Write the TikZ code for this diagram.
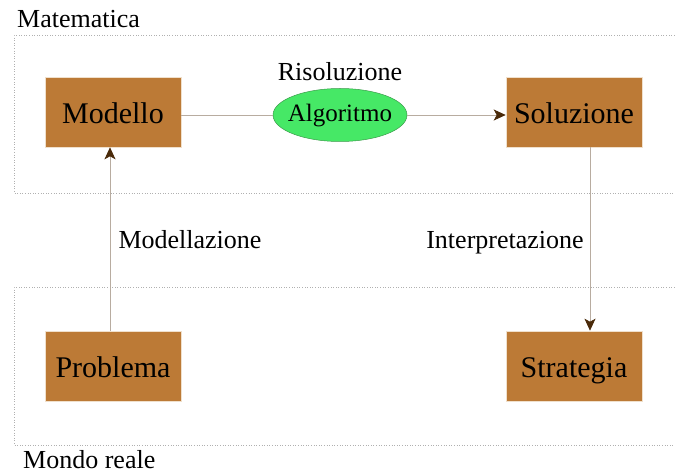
\documentclass[tikz,border=0pt]{standalone}
\usepackage{fontspec}
\setmainfont{Liberation Serif}
\usetikzlibrary{arrows.meta,shapes.geometric}
\definecolor{boxfill}{HTML}{BC7A36}
\definecolor{boxline}{HTML}{F0E0CC}
\definecolor{ellfill}{HTML}{46E866}
\definecolor{ellline}{HTML}{3A9A4A}
\definecolor{conn}{HTML}{B8ACA0}
\definecolor{tipc}{HTML}{4A2A0A}
\definecolor{frame}{HTML}{B0B0B0}
\tikzset{
  x=1pt,y=1pt,
  box/.style={draw=boxline, line width=0.6pt, fill=boxfill, minimum width=136pt, minimum height=70pt, inner sep=0pt, text height=23pt, text depth=0pt, font=\fontsize{30}{30}\selectfont},
  ell/.style={ellipse, draw=ellline, line width=0.5pt, fill=ellfill, minimum width=134pt, minimum height=53pt, inner xsep=-5pt, inner ysep=0pt, text height=14pt, text depth=0pt, font=\fontsize{25}{25}\selectfont},
  lbl/.style={inner sep=0pt, text height=18pt, text depth=0pt, font=\fontsize{26}{26}\selectfont},
  connline/.style={draw=conn, line width=0.8pt},
  arr/.style={connline, -{Stealth[length=12pt,width=11pt,inset=3pt,color=tipc]}},
  region/.style={draw=frame, line width=0.6pt, dotted}
}
\begin{document}
\begin{tikzpicture}
\useasboundingbox (0,0) rectangle (675,472);
\clip (0,0) rectangle (675,472);
% regions
\draw[region] (690,437) -- (14,437) -- (14,279) -- (690,279);
\draw[region] (690,185) -- (14,185) -- (14,27) -- (690,27);
\node[lbl, anchor=west] (mat) at (17,453) {Matematica};
\node[lbl, anchor=west] (mondo) at (23,13) {Mondo reale};
% nodes
\node[box] (modello) at (113,360) {Modello};
\node[box] (soluzione) at (574,360) {Soluzione};
\node[box] (problema) at (113,106) {Problema};
\node[box] (strategia) at (574,106) {Strategia};
\node[ell] (algo) at (340,357) {Algoritmo};
% labels
\node[lbl] (riso) at (340,400) {Risoluzione};
\node[lbl] (modl) at (190,232) {Modellazione};
\node[lbl] (interp) at (505,232) {Interpretazione};
% connectors
\draw[connline] (modello.east |- algo.west) -- (algo.west);
\draw[arr] (algo.east) -- (soluzione.west |- algo.east);
\draw[arr] ([xshift=-3pt]problema.north) -- ([xshift=-3pt]modello.south);
\draw[arr] ([xshift=16pt]soluzione.south) -- ([xshift=16pt]strategia.north);
\end{tikzpicture}
\end{document}
